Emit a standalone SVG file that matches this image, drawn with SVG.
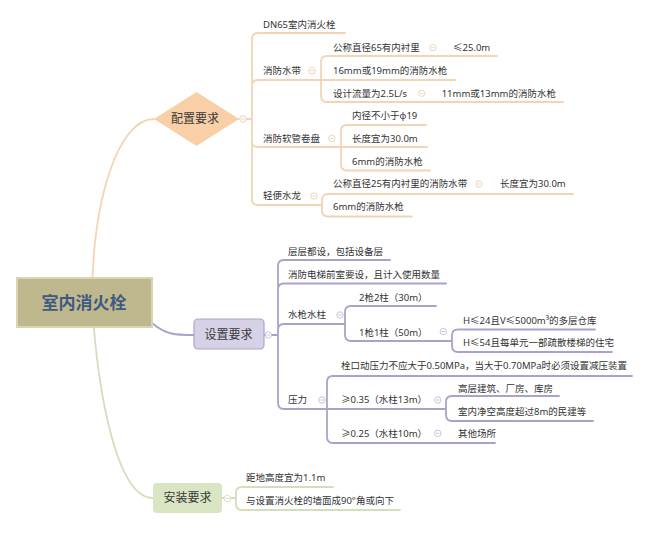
<svg xmlns="http://www.w3.org/2000/svg" width="648" height="538" viewBox="0 0 648 538">
<style>
.t{font-family:"Noto Sans","Noto Sans CJK SC",sans-serif;font-size:9.5px;fill:#333}
.l1{font-family:"Noto Sans CJK SC","Liberation Sans",sans-serif;font-size:12px;fill:#3a3a3a;text-anchor:middle}
.root{font-family:"Noto Sans CJK SC","Liberation Sans",sans-serif;font-size:17px;font-weight:bold;fill:#3e5a7f;text-anchor:middle}
.c{fill:none;stroke-width:1.8;stroke-linecap:round}
.p{stroke:#f3d4b4}
.v{stroke:#aca2c9}
.g{stroke:#d3dfba}
.btn{fill:#fff;stroke-width:0.8}
.bp{stroke:#e9c9a8}
.bv{stroke:#b9b2cf}
.bg{stroke:#cbd6b3}
</style>
<rect width="648" height="538" fill="#fff"/>
<g id="connectors">
<path class="c p" d="M92,302 C92,200 118,119 154,119"/>
<path class="c v" d="M152,323 C166,335 176,335 194,335"/>
<path class="c g" d="M92,302 C98,400 118,498 153,498"/>
<path class="c p" d="M239,119 H252 M252,119 V39 Q252,33 258,33 H345 M252,119 V86 Q252,80 258,80 H321 M252,119 V141 Q252,147 258,147 H341 M252,119 V199 Q252,205 258,205 H322"/>
<path class="c p" d="M321,80 V62 Q321,56 327,56 H497 M321,80 H455 M321,80 V96 Q321,102 327,102 H563"/>
<path class="c p" d="M341,147 V131 Q341,125 347,125 H426 M341,147 H427 M341,147 V164.5 Q341,170.5 347,170.5 H430"/>
<path class="c p" d="M322,205 V200 Q322,194 328,194 H573 M322,205 V210.5 Q322,216.5 328,216.5 H412"/>
<path class="c v" d="M264,335 H278 M278,335 V266 Q278,260 284,260 H390 M278,335 V289.5 Q278,283.5 284,283.5 H446 M278,335 V330 Q278,324 284,324 H345 M278,335 V403 Q278,409 284,409 H327"/>
<path class="c v" d="M345,324 V312 Q345,306 351,306 H436 M345,324 V335 Q345,341 351,341 H452"/>
<path class="c v" d="M452,341 V335.5 Q452,329.5 458,329.5 H595 M452,341 V346 Q452,352 458,352 H612"/>
<path class="c v" d="M327,409 V382 Q327,376 333,376 H632 M327,409 H446 M327,409 V437 Q327,443 333,443 H495"/>
<path class="c v" d="M446,409 V402 Q446,396 452,396 H559 M446,409 V415 Q446,421 452,421 H593"/>
<path class="c g" d="M222,498 H236 M236,498 V493 Q236,487 242,487 H333 M236,498 V504 Q236,510 242,510 H400"/>
</g>
<g id="root"><rect x="17" y="278" width="135" height="49" fill="#bfb88f" stroke="#d9d4b3" stroke-width="2"/><text class="root" x="84" y="309">室内消火栓</text></g>
<g id="peizhi"><polygon points="154,119 196.5,92 239,119 196.5,146" fill="#f8cfa6"/><text class="l1" x="195" y="123.3">配置要求</text><circle class="btn bp" cx="243" cy="119" r="3.2"/><path class="bp" stroke-width="0.8" d="M241.3,119 H244.7"/></g>
<g id="shezhi"><rect x="194" y="319" width="70" height="30" rx="4" fill="#d6d1e7" stroke="#aea4cb" stroke-width="1.2"/><text class="l1" x="228.5" y="339.3">设置要求</text><circle class="btn bv" cx="268.3" cy="335" r="3.2"/><path class="bv" stroke-width="0.8" d="M266.6,335 H270"/></g>
<g id="anzhuang"><rect x="153" y="483" width="69" height="30" rx="4" fill="#d9e5c3"/><text class="l1" x="187.5" y="502.3">安装要求</text><circle class="btn bg" cx="227.3" cy="498.5" r="3.2"/><path class="bg" stroke-width="0.8" d="M225.6,498.5 H229"/></g>
<g id="dn65"><text class="t" x="263" y="27.7">DN65室内消火栓</text></g>
<g id="shuidai"><text class="t" x="263" y="74.1">消防水带</text><circle class="btn bp" cx="312" cy="70.7" r="3.2"/><path class="bp" stroke-width="0.8" d="M310.3,70.7 H313.7"/></g>
<g id="ruanguan"><text class="t" x="263" y="141.7">消防软管卷盘</text><circle class="btn bp" cx="331.7" cy="138.3" r="3.2"/><path class="bp" stroke-width="0.8" d="M330,138.3 H333.4"/></g>
<g id="shuilong"><text class="t" x="263" y="199.4">轻便水龙</text><circle class="btn bp" cx="314" cy="196" r="3.2"/><path class="bp" stroke-width="0.8" d="M312.3,196 H315.7"/></g>
<g id="gc65"><text class="t" x="333" y="51.1">公称直径65有内衬里</text><circle class="btn bp" cx="433" cy="47.7" r="3.2"/><path class="bp" stroke-width="0.8" d="M431.3,47.7 H434.7"/></g>
<g id="le25"><text class="t" x="453" y="51.1">≤25.0m</text></g>
<g id="qiang1619"><text class="t" x="333" y="74.1">16mm或19mm的消防水枪</text></g>
<g id="liuliang"><text class="t" x="333" y="96.7">设计流量为2.5L/s</text><circle class="btn bp" cx="421.7" cy="93.3" r="3.2"/><path class="bp" stroke-width="0.8" d="M420,93.3 H423.4"/></g>
<g id="qiang1113"><text class="t" x="441.7" y="96.7">11mm或13mm的消防水枪</text></g>
<g id="neijing"><text class="t" x="352" y="119.4">内径不小于φ19</text></g>
<g id="changdu1"><text class="t" x="352" y="141.9">长度宜为30.0m</text></g>
<g id="qiang6a"><text class="t" x="352" y="165.4">6mm的消防水枪</text></g>
<g id="gc25"><text class="t" x="333" y="187.4">公称直径25有内衬里的消防水带</text><circle class="btn bp" cx="479" cy="184" r="3.2"/><path class="bp" stroke-width="0.8" d="M477.3,184 H480.7"/></g>
<g id="changdu2"><text class="t" x="500" y="187.4">长度宜为30.0m</text></g>
<g id="qiang6b"><text class="t" x="333" y="210.4">6mm的消防水枪</text></g>
<g id="cengceng"><text class="t" x="288" y="255.1">层层都设，包括设备层</text></g>
<g id="dianti"><text class="t" x="288" y="277.7">消防电梯前室要设，且计入使用数量</text></g>
<g id="shuiqiang"><text class="t" x="288" y="318.4">水枪水柱</text><circle class="btn bv" cx="340" cy="315" r="3.2"/><path class="bv" stroke-width="0.8" d="M338.3,315 H341.7"/></g>
<g id="yali"><text class="t" x="288" y="403.4">压力</text><circle class="btn bv" cx="322" cy="400" r="3.2"/><path class="bv" stroke-width="0.8" d="M320.3,400 H323.7"/></g>
<g id="q2z2"><text class="t" x="359" y="300.7">2枪2柱（30m）</text></g>
<g id="q1z1"><text class="t" x="359" y="335.7">1枪1柱（50m）</text><circle class="btn bv" cx="443.3" cy="331.5" r="3.2"/><path class="bv" stroke-width="0.8" d="M441.6,331.5 H445"/></g>
<g id="h24"><text class="t" x="463" y="324.1">H≤24且V≤5000m³的多层仓库</text></g>
<g id="h54"><text class="t" x="463" y="346.1">H≤54且每单元一部疏散楼梯的住宅</text></g>
<g id="shuankou"><text class="t" x="341" y="368.9">栓口动压力不应大于0.50MPa，当大于0.70MPa时必须设置减压装置</text></g>
<g id="ge035"><text class="t" x="341" y="403.4">≥0.35（水柱13m）</text><circle class="btn bv" cx="437.7" cy="400" r="3.2"/><path class="bv" stroke-width="0.8" d="M436,400 H439.4"/></g>
<g id="ge025"><text class="t" x="341" y="436.7">≥0.25（水柱10m）</text><circle class="btn bv" cx="437.7" cy="433.3" r="3.2"/><path class="bv" stroke-width="0.8" d="M436,433.3 H439.4"/></g>
<g id="gaoceng"><text class="t" x="458" y="391.7">高层建筑、厂房、库房</text></g>
<g id="jingkong"><text class="t" x="458" y="415.1">室内净空高度超过8m的民建等</text></g>
<g id="qita"><text class="t" x="458" y="436.7">其他场所</text></g>
<g id="gaodu"><text class="t" x="246" y="481.1">距地高度宜为1.1m</text></g>
<g id="fangxiang"><text class="t" x="246" y="504.4">与设置消火栓的墙面成90°角或向下</text></g>
</svg>
